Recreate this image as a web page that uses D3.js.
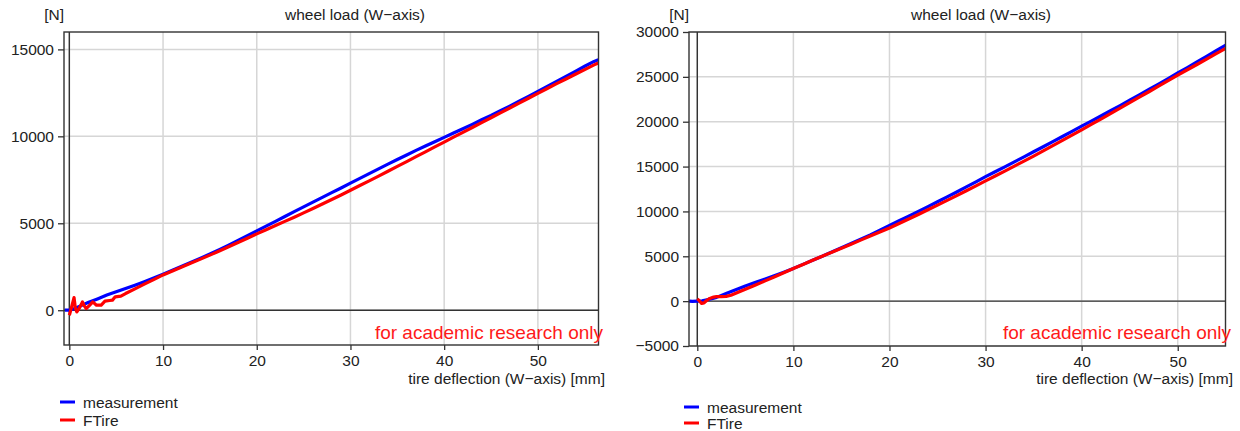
<!DOCTYPE html>
<html>
<head>
<meta charset="utf-8">
<script src="https://cdn.jsdelivr.net/npm/d3@7"></script>
<style>
  html, body { margin: 0; padding: 0; background: #fff; }
  svg { display: block; }
  text { font-family: "Liberation Sans", Arial, Helvetica, sans-serif; fill: #222; }
</style>
</head>
<body>
<svg id="chart" width="1240" height="431"></svg>
<script>
// ---------------- data ----------------
const xTicks = [0, 10, 20, 30, 40, 50];
const leftYTicks = [0, 5000, 10000, 15000];
const rightYTicks = [-5000, 0, 5000, 10000, 15000, 20000, 25000, 30000];
const seriesNames = ["measurement", "FTire"];
const seriesColors = ["#0000ff", "#ff0000"];
const titleText = "wheel load (W\u2212axis)";
const unitText = "[N]";
const xLabelText = "tire deflection (W\u2212axis) [mm]";
const watermarkText = "for academic research only";

// left panel: [deflection mm, load N]
const leftMeasurement = [
  [-0.5, 0], [0, 0], [0.5, 80], [1, 200], [1.5, 320], [2, 440], [3, 650], [4, 870], [5, 1060],
  [6, 1250], [7, 1440], [8, 1640], [9, 1850], [10, 2070], [11, 2300], [12, 2530], [13, 2760],
  [14, 2990], [15, 3230], [16, 3480], [17, 3740], [18, 4010], [19, 4280], [20, 4560], [21, 4840],
  [22, 5110], [23, 5390], [24, 5670], [25, 5940], [26, 6220], [27, 6490], [28, 6760], [29, 7030],
  [30, 7310], [31, 7580], [32, 7860], [33, 8130], [34, 8400], [35, 8670], [36, 8930], [37, 9190],
  [38, 9440], [39, 9690], [40, 9940], [41, 10190], [42, 10440], [43, 10690], [44, 10950],
  [45, 11200], [46, 11470], [47, 11740], [48, 12020], [49, 12300], [50, 12580], [51, 12870],
  [52, 13160], [53, 13450], [54, 13740], [55, 14030], [56, 14310], [56.45, 14400]
];
const leftFTire = [
  [0, -290], [0.25, 200], [0.5, 730], [0.65, 100], [0.8, -100], [1.1, 150], [1.4, 480], [1.6, 250],
  [1.8, 100], [2.1, 250], [2.5, 480], [2.9, 290], [3.4, 290], [3.8, 520], [4.3, 560], [4.6, 580],
  [4.9, 770], [5.5, 810], [6, 960], [7, 1230], [8, 1500], [9, 1760], [10, 2030], [11, 2260],
  [12, 2490], [13, 2710], [14, 2940], [15, 3170], [16, 3410], [17, 3650], [18, 3890], [19, 4140],
  [20, 4390], [21, 4630], [22, 4870], [23, 5110], [24, 5350], [25, 5600], [26, 5850], [27, 6110],
  [28, 6370], [29, 6630], [30, 6900], [31, 7170], [32, 7440], [33, 7710], [34, 7990], [35, 8270],
  [36, 8550], [37, 8830], [38, 9110], [39, 9390], [40, 9670], [41, 9950], [42, 10230], [43, 10510],
  [44, 10790], [45, 11070], [46, 11350], [47, 11630], [48, 11910], [49, 12190], [50, 12470],
  [51, 12750], [52, 13030], [53, 13300], [54, 13570], [55, 13840], [56, 14110], [56.45, 14220]
];

// right panel
const rightMeasurement = [
  [-0.86, 10], [-0.5, -20], [0, 0], [0.5, 30], [1, 150], [1.5, 280], [2, 420], [3, 850], [4, 1270],
  [5, 1700], [6, 2080], [7, 2450], [8, 2830], [9, 3230], [10, 3650], [11, 4100], [12, 4550],
  [13, 5000], [14, 5480], [15, 5950], [16, 6420], [17, 6900], [18, 7380], [19, 7910], [20, 8440],
  [21, 8960], [22, 9480], [23, 10010], [24, 10540], [25, 11080], [26, 11620], [27, 12170],
  [28, 12730], [29, 13300], [30, 13870], [31, 14420], [32, 14970], [33, 15530], [34, 16090],
  [35, 16650], [36, 17210], [37, 17780], [38, 18350], [39, 18920], [40, 19500], [41, 20070],
  [42, 20640], [43, 21220], [44, 21800], [45, 22390], [46, 22990], [47, 23590], [48, 24200],
  [49, 24810], [50, 25430], [51, 26040], [52, 26660], [53, 27280], [54, 27910], [55, 28550]
];
const rightFTire = [
  [0, 250], [0.2, 50], [0.45, -250], [0.7, -200], [1, 100], [1.3, 300], [1.7, 450], [2, 500],
  [2.5, 500], [3, 530], [3.5, 660], [4, 880], [5, 1320], [6, 1780], [7, 2230], [8, 2690],
  [9, 3160], [10, 3630], [11, 4090], [12, 4550], [13, 5010], [14, 5460], [15, 5900], [16, 6350],
  [17, 6800], [18, 7260], [19, 7700], [20, 8150], [21, 8650], [22, 9150], [23, 9660], [24, 10180],
  [25, 10700], [26, 11230], [27, 11760], [28, 12300], [29, 12850], [30, 13400], [31, 13950],
  [32, 14500], [33, 15050], [34, 15610], [35, 16170], [36, 16750], [37, 17330], [38, 17920],
  [39, 18510], [40, 19100], [41, 19700], [42, 20300], [43, 20900], [44, 21510], [45, 22120],
  [46, 22730], [47, 23340], [48, 23960], [49, 24580], [50, 25200], [51, 25790], [52, 26380],
  [53, 26980], [54, 27580], [55, 28180]
];

// ---------------- drawing ----------------
const svg = d3.select("#chart");
const FS = 15.5;

function panel(cfg) {
  const g = svg.append("g");
  const x = d3.scaleLinear().domain(cfg.xDomain).range([cfg.left, cfg.right]);
  const y = d3.scaleLinear().domain(cfg.yDomain).range([cfg.bottom, cfg.top]);
  const clipId = "clip" + cfg.id;
  svg.append("clipPath").attr("id", clipId).append("rect")
    .attr("x", cfg.left).attr("y", cfg.top)
    .attr("width", cfg.right - cfg.left).attr("height", cfg.bottom - cfg.top);

  // grid
  g.append("g").selectAll("line").data(xTicks).join("line")
    .attr("x1", d => x(d)).attr("x2", d => x(d))
    .attr("y1", cfg.top).attr("y2", cfg.bottom)
    .attr("stroke", "#d6d6d6").attr("stroke-width", 1.5);
  g.append("g").selectAll("line").data(cfg.yTicks).join("line")
    .attr("x1", cfg.left).attr("x2", cfg.right)
    .attr("y1", d => y(d)).attr("y2", d => y(d))
    .attr("stroke", "#d6d6d6").attr("stroke-width", 1.5);

  // zero lines
  g.append("line").attr("x1", x(0)).attr("x2", x(0)).attr("y1", cfg.top).attr("y2", cfg.bottom)
    .attr("stroke", "#333").attr("stroke-width", 1.4);
  g.append("line").attr("x1", cfg.left).attr("x2", cfg.right).attr("y1", y(0)).attr("y2", y(0))
    .attr("stroke", "#333").attr("stroke-width", 1.4);

  // series
  const line = d3.line().x(d => x(d[0])).y(d => y(d[1]));
  const data = [cfg.meas, cfg.ftire];
  g.append("g").attr("clip-path", `url(#${clipId})`)
    .selectAll("path").data(data).join("path")
    .attr("d", line).attr("fill", "none")
    .attr("stroke", (d, i) => seriesColors[i])
    .attr("stroke-width", 3.2).attr("stroke-linejoin", "round");

  // frame
  g.append("rect").attr("x", cfg.left).attr("y", cfg.top)
    .attr("width", cfg.right - cfg.left).attr("height", cfg.bottom - cfg.top)
    .attr("fill", "none").attr("stroke", "#333").attr("stroke-width", 1.4);

  // axes
  const yAxis = d3.axisLeft(y).tickValues(cfg.yTicks).tickSize(6).tickPadding(4).tickFormat(d3.format("d"));
  const ya = g.append("g").attr("transform", `translate(${cfg.left},0)`).call(yAxis);
  const xAxis = d3.axisBottom(x).tickValues(xTicks).tickSize(5).tickPadding(5).tickFormat(d3.format("d"));
  const xa = g.append("g").attr("transform", `translate(0,${cfg.bottom})`).call(xAxis);
  [ya, xa].forEach(a => {
    a.select(".domain").remove();
    a.selectAll(".tick line").attr("stroke", "#333").attr("stroke-width", 1.3);
    a.selectAll(".tick text").attr("font-size", FS).attr("fill", "#222")
      .style("font-family", '"Liberation Sans", Arial, sans-serif');
  });
  ya.selectAll(".tick text").text(d => d < 0 ? "\u2212" + Math.abs(d) : d);

  // texts
  g.append("text").attr("x", cfg.titleX).attr("y", 20).attr("text-anchor", "middle")
    .attr("font-size", FS).text(titleText);
  g.append("text").attr("x", cfg.left).attr("y", 20).attr("text-anchor", "end")
    .attr("font-size", FS).text(unitText);
  g.append("text").attr("x", cfg.xLabelRight).attr("y", 384).attr("text-anchor", "end")
    .attr("font-size", FS).text(xLabelText);
  g.append("text").attr("x", cfg.wmRight).attr("y", 339).attr("text-anchor", "end")
    .attr("font-size", 19).style("fill", "#ff1a1a").text(watermarkText);

  // legend
  const lg = g.append("g");
  seriesNames.forEach((n, i) => {
    const ly = cfg.legendY + i * cfg.legendDy;
    lg.append("line").attr("x1", cfg.legendX).attr("x2", cfg.legendX + 15)
      .attr("y1", ly).attr("y2", ly).attr("stroke", seriesColors[i]).attr("stroke-width", 3);
    lg.append("text").attr("x", cfg.legendX + 23).attr("y", ly + 6)
      .attr("font-size", FS).text(n);
  });
}

panel({
  id: "L", left: 64, right: 598.5, top: 32, bottom: 345,
  xDomain: [-0.57, 56.47], yDomain: [-2000, 16000], yTicks: leftYTicks,
  meas: leftMeasurement, ftire: leftFTire,
  titleX: 355, xLabelRight: 605, wmRight: 603,
  legendX: 60, legendY: 402, legendDy: 18
});
panel({
  id: "R", left: 689, right: 1225.5, top: 32, bottom: 346,
  xDomain: [-0.864, 54.97], yDomain: [-5000, 30000], yTicks: rightYTicks,
  meas: rightMeasurement, ftire: rightFTire,
  titleX: 981, xLabelRight: 1233, wmRight: 1231,
  legendX: 684, legendY: 407, legendDy: 16
});
</script>
</body>
</html>
